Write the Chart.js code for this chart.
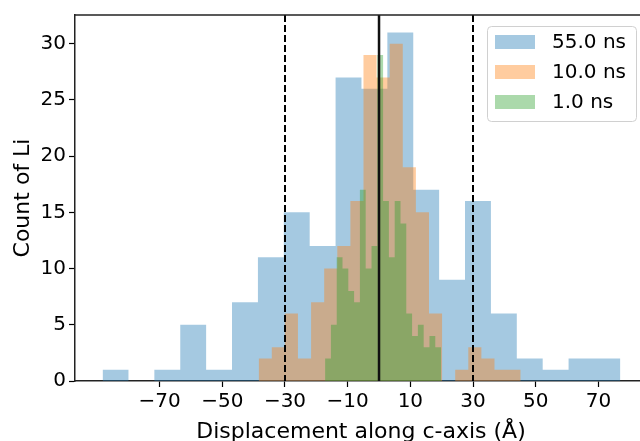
<!DOCTYPE html>
<html>
<head>
<meta charset="utf-8">
<script src="https://cdn.jsdelivr.net/npm/chart.js@4.4.1/dist/chart.umd.min.js"></script>
<style>
html, body { margin: 0; padding: 0; overflow: hidden; background: #fff; }
canvas { display: block; }
</style>
</head>
<body>
<canvas id="myChart" width="652" height="441"></canvas>
<script>
// histogram counts per bin (20 bins each)
var seriesLabels = ['55.0 ns', '10.0 ns', '1.0 ns']
var seriesColors = ['rgba(31, 119, 180, 0.4)', 'rgba(255, 127, 14, 0.4)', 'rgba(44, 160, 44, 0.4)']
var counts55 = [1, 0, 1, 5, 1, 7, 11, 15, 12, 27, 26, 31, 17, 9, 16, 6, 2, 1, 2, 2]
var counts10 = [2, 3, 6, 2, 7, 10, 12, 16, 29, 27, 30, 19, 15, 6, 0, 1, 3, 2, 1, 1]
var counts1 = [2, 5, 11, 10, 8, 7, 17, 10, 12, 29, 16, 11, 16, 14, 6, 4, 5, 3, 4, 3]
// first and last bin edge of each histogram
var range55 = [-88.2, 77.0]
var range10 = [-38.4, 45.2]
var range1 = [-17.2, 19.8]

var xTicks = [-70, -50, -30, -10, 10, 30, 50, 70]
var yTicks = [0, 5, 10, 15, 20, 25, 30]
var dashedAt = [-30, 30]
var solidAt = [0]

var font = 'DejaVu Sans'

// step points: one per left bin edge, plus the last right edge
function histPoints(counts, range) {
    var n = counts.length
    var w = (range[1] - range[0]) / n
    var pts = []
    for (var i = 0; i < n; i++) {
        pts.push({x: range[0] + i * w, y: counts[i]})
    }
    pts.push({x: range[1], y: counts[n - 1]})
    return pts
}

function histDataset(i, counts, range, order) {
    return {
        label: seriesLabels[i],
        data: histPoints(counts, range),
        stepped: true,
        fill: 'origin',
        backgroundColor: seriesColors[i],
        borderWidth: 0,
        pointRadius: 0,
        order: order
    }
}

var overlay = {
    id: 'overlay',
    afterDatasetsDraw: function(chart) {
        var ctx = chart.ctx
        var area = chart.chartArea
        var x = chart.scales.x
        ctx.save()
        ctx.strokeStyle = '#000'
        ctx.lineWidth = 2
        ctx.setLineDash([7, 3])
        dashedAt.forEach(function(v) {
            var px = Math.round(x.getPixelForValue(v))
            ctx.beginPath()
            ctx.moveTo(px, area.top)
            ctx.lineTo(px, area.bottom)
            ctx.stroke()
        })
        ctx.setLineDash([])
        ctx.lineWidth = 2.5
        ctx.strokeStyle = '#111'
        solidAt.forEach(function(v) {
            var px = x.getPixelForValue(v)
            ctx.beginPath()
            ctx.moveTo(px, area.top)
            ctx.lineTo(px, area.bottom)
            ctx.stroke()
        })
        // top spine
        ctx.lineWidth = 1.5
        ctx.strokeStyle = '#222'
        ctx.beginPath()
        ctx.moveTo(area.left, area.top)
        ctx.lineTo(area.right + 1, area.top)
        ctx.stroke()
        ctx.restore()
    },
    afterDraw: function(chart) {
        // legend box in the upper right corner
        var ctx = chart.ctx
        var area = chart.chartArea
        var bx = area.right - 160, by = area.top + 11, bw = 149, bh = 95
        ctx.save()
        ctx.fillStyle = 'rgba(255,255,255,0.8)'
        ctx.strokeStyle = '#d0d0d0'
        ctx.lineWidth = 1
        ctx.beginPath()
        ctx.roundRect(bx + 0.5, by + 0.5, bw, bh, 4)
        ctx.fill()
        ctx.stroke()
        ctx.font = '20px "' + font + '"'
        ctx.textBaseline = 'middle'
        ctx.fillStyle = '#000'
        chart.data.datasets.forEach(function(ds, i) {
            var cy = by + 16 + i * 30
            ctx.fillStyle = ds.backgroundColor
            ctx.fillRect(bx + 8, cy - 7, 40, 14)
            ctx.fillStyle = '#000'
            ctx.fillText(ds.label, bx + 65, cy + 1)
        })
        ctx.restore()
    }
}

function fmt(v) {
    return v < 0 ? '\u2212' + Math.abs(v) : String(v)
}

var graphData = {
    type: 'line',
    data: {
        datasets: [
            histDataset(0, counts55, range55, 3),
            histDataset(1, counts10, range10, 2),
            histDataset(2, counts1, range1, 1)
        ]
    },
    options: {
        responsive: false,
        animation: false,
        devicePixelRatio: 1,
        layout: {padding: {top: 11, right: 5, left: 0, bottom: 0}},
        plugins: {
            legend: {display: false},
            tooltip: {enabled: false}
        },
        scales: {
            x: {
                type: 'linear',
                min: -97,
                max: 85.5,
                afterBuildTicks: function(s) { s.ticks = xTicks.map(function(v) { return {value: v} }) },
                afterFit: function(s) { s.height = 60 },
                grid: {drawOnChartArea: false, drawTicks: true, tickLength: 6, color: '#000', tickWidth: 1.2},
                border: {color: '#222', width: 1.5},
                ticks: {
                    color: '#000', font: {family: font, size: 20}, padding: 3,
                    maxRotation: 0, autoSkip: false,
                    callback: function(v) { return fmt(v) }
                },
                title: {
                    display: true, text: 'Displacement along c-axis (\u00c5)',
                    color: '#000', font: {family: font, size: 22, lineHeight: 1},
                    padding: {top: 0, bottom: -2}
                }
            },
            y: {
                min: 0,
                max: 32.55,
                afterBuildTicks: function(s) { s.ticks = yTicks.map(function(v) { return {value: v} }) },
                afterFit: function(s) { s.width = 75 },
                grid: {drawOnChartArea: false, drawTicks: true, tickLength: 6, color: '#000', tickWidth: 1.2},
                border: {color: '#222', width: 1.5},
                ticks: {
                    color: '#000', font: {family: font, size: 20}, padding: 3,
                    callback: function(v) { return fmt(v) }
                },
                title: {
                    display: true, text: 'Count of Li',
                    color: '#000', font: {family: font, size: 22, lineHeight: 1},
                    padding: {top: 12, bottom: 0}
                }
            }
        }
    },
    plugins: [overlay]
}

var ctx = document.getElementById('myChart').getContext('2d')
var myChart = new Chart(ctx, graphData)
</script>
</body>
</html>
